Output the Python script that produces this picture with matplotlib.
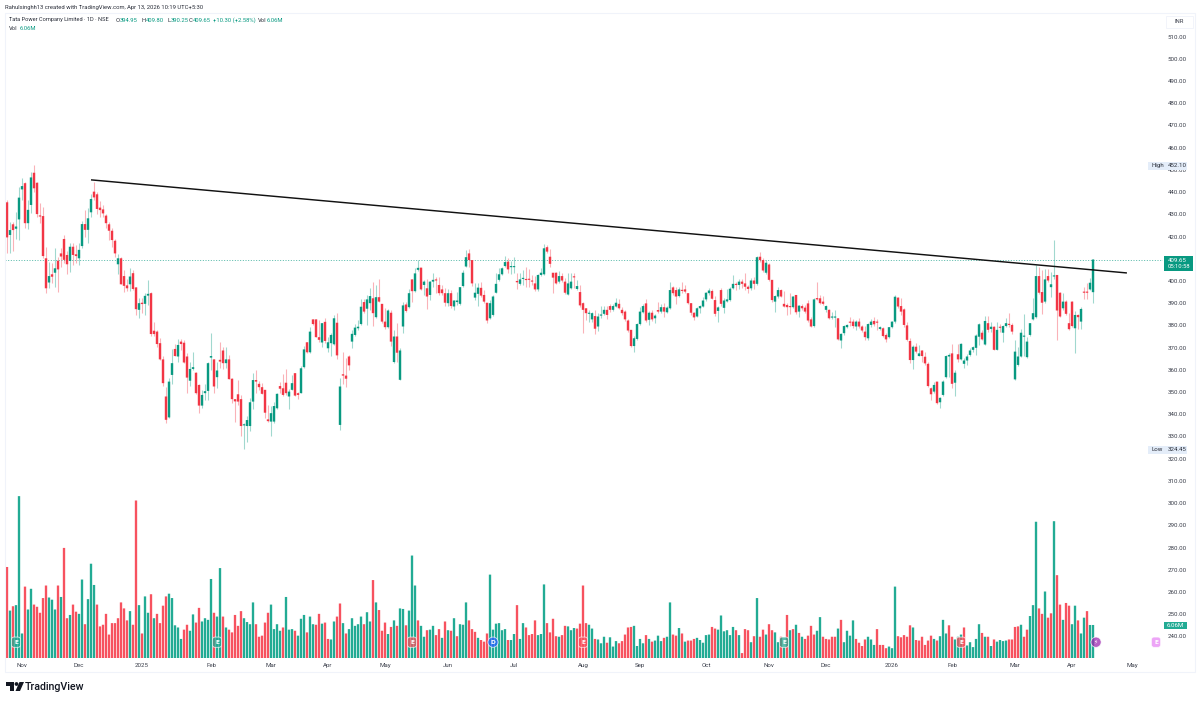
import numpy as np
import matplotlib
matplotlib.use("Agg")
import matplotlib.pyplot as plt
from matplotlib.patches import Rectangle, Polygon, Circle

plt.rcParams['font.family'] = ['Roboto', 'DejaVu Sans']

# daily candles
opens = [435.4,420.7,425.5,423.5,427.7,441.2,444,426,434.2,448.7,
444.2,429.4,429.2,410.2,399.3,403,403.7,409.1,412.4,418.9,
411.7,409,415.4,412,410.2,415.7,425.6,423,430.9,440.2,
439,433,432.2,429.4,425.5,422.6,418.1,407.5,410.2,402.2,
398,398.5,403.5,397.1,387,390.2,389.7,393.4,394.5,377.6,
377.2,372,364.7,348,338.6,357.7,369.4,366,372.7,372.2,
366,355.1,360.4,358.7,353.2,343.9,349.5,350.5,365.5,364.7,
356.7,364.5,368.7,363,364.7,356,346.8,349,346.8,335,
334.7,334.7,345.7,355.4,353.7,352.2,351,337.7,336.7,336.7,
342.7,352.7,351.7,354.2,348,351,358.5,349.5,349.5,361.2,
372.4,367.9,382.7,382.7,374.7,372.3,381.6,369.7,372,371.5,
381.2,335.2,358,357.4,366,372.7,375.7,378.7,380.6,390.5,
387.5,390,392.2,383.7,392.7,389.7,381.7,379.2,385.7,363.5,
375,355.5,379.5,389.4,388.2,400.7,395.4,405,406,398.2,
396.7,393.7,399.7,400.7,398.2,396.2,394.5,390,394.5,388.5,
390.5,389.7,397.7,406.5,412.4,409.4,392.5,394.2,396.9,393.7,
390.2,383.2,384.7,394.7,400.5,403,406.7,408.7,406.2,406.2,
400,398.7,400.9,400.8,400.7,400.2,398.9,396.2,402.7,403,
415.2,410.9,403.7,403.7,399.7,402.2,399.7,393.9,396.7,401.9,
396.4,395,390,387.7,385.2,382.7,384.2,379.5,384.4,385.2,
387,388.7,387,388.5,389.7,387,386.2,382.2,378,370.7,
373.9,380.6,385.9,389.9,382.5,385.7,383.2,386.9,386.2,388.2,
385.9,387.7,397.1,395.9,393.2,395.9,396.2,394.5,390,385.7,
384,387.7,388.5,391.7,394.5,395.5,391.4,386.5,395.9,387.9,
390.8,391.4,396.7,398.7,398.2,399.7,398.9,397.4,396.7,400.2,
398.7,410.9,409.4,403.7,407.4,400.5,390.7,393,395.9,389.7,
389.2,388.7,388.2,393.7,386.2,388.7,388,389.9,382.7,379.7,
392.3,392.2,390.7,387,387,383.5,383.5,383.2,373.2,376.5,
379.2,381.7,381.7,379.5,381.7,379.5,377.2,374.2,380.2,382,
381.7,378.4,378.7,375.7,374.7,379.2,381.7,392.5,388.7,387.2,
380,373,364.4,370.4,366.2,368.7,365.9,362.7,351.7,350.2,
354.7,345.4,348.7,356.7,366,367.4,354.2,367,364.7,362.7,
364.2,366.7,369,369.9,374.9,376.7,371.4,381,378.4,379.4,
369,379.4,376.7,379.7,380.7,380.2,355.7,362.2,366,374.9,
365.7,375.7,382.7,383.7,402.2,395,390.7,402.2,397.2,402,
402.7,394.7,387.7,390.7,381,390.7,378.7,384.7,381.7,395,395,396.2,394.95]

highs = [436.5,426.5,426.7,431,442.4,446.2,444.7,436.4,449.2,452.1,
444.7,434.9,433.4,415.1,408.7,408,414.7,411,414.7,420.7,
413.4,417,417,416,417,427,432,433,439,444.7,
440,436,434,430,426.5,424,419,412,411,405,
401,405.7,405,397.5,392.2,392.2,394.5,400.5,395,381.7,
378,374.2,366,352.4,356.2,369.2,371.6,373.7,374,373.4,
367.4,363.4,368.2,359,353.5,351,353.6,363.7,376.4,365,
363.7,372.7,370.4,370.4,366.7,356.5,347,355.5,348.7,336,
339,347.2,358.4,360,355,354,351,344.2,343.5,345.7,
349.7,354.7,358.2,360.2,351.2,357.7,358.6,350.2,361.5,370.7,
372.5,379.5,382.8,383,382.4,381,383.2,374.7,376.4,384.7,
385.4,356.2,368.2,365.2,366.5,378,380.7,382.4,391.7,391.9,
393.7,396.7,399.7,398.2,400.7,389.7,387.7,387.2,387,378,
381,369.7,390.7,390.4,396.2,400.9,405.7,409.5,406,400.5,
400.7,400.2,403.5,402,402,398.2,396.7,396.2,396,391.5,
395.2,397.5,404.9,413.9,414.2,409.5,399,398.9,399.7,396,
390.3,391.5,393.7,403.5,405.7,406.2,411.2,410.2,409.2,410.6,
403.7,403.5,404.9,406.5,405.2,402.7,402.2,403,405.7,416.7,
416.2,414.2,403.8,404.2,404.7,403.7,401.2,403.4,403.7,403.4,
400.5,398.2,390.7,387.8,386.9,386.2,386.9,385.4,388.7,388.7,
388.7,389.6,389.6,392.2,391.7,388.2,387,382.7,378,375,
381,388.5,389.7,391.7,386.7,387,385.2,390.7,389.7,390,
388.7,399.7,397.7,397.2,397.2,399.7,398.2,394.5,390,386.2,
388.2,389.2,393,395.2,396.7,396.2,393.2,388.7,396.7,392.2,
396.2,397.2,402.7,399.7,400.7,400.7,403.7,398.2,401.2,401.9,
411.2,413.2,410.2,409.4,407.9,400.5,393.7,397.4,396.2,395.7,
390,394.5,393.4,393.7,389.2,389.7,389.2,391.4,383.7,392.2,
399.7,393.7,393.2,389.2,387.3,386.2,386.9,383.2,376.7,380.2,
380.6,383.7,382.7,382.5,383.2,380.2,379.7,381,382.7,383.7,
383,379.7,379.5,376.5,379.5,382,393.7,393,392.2,387.7,
381.7,374.2,371.2,372,371.2,368.7,368.2,363.7,352.4,354.7,
354.7,347.9,355.4,366.7,367.4,371.7,359.9,371.7,372,365.2,
367.2,369.7,370.7,376.2,381.2,378,384.2,384.2,381.7,379.7,
381.7,380.7,380.2,383.2,385.4,381.2,373.4,370.4,378.2,385.2,
374.7,381.2,392.2,407.2,406.2,405,405.2,405.2,404.2,418.5,
402.9,394.9,394.7,391.5,385.5,391.2,386.5,385.2,388.5,397.4,398.9,401.2,409.8]

lows = [412.4,412.7,413.6,419,418.4,436.4,423.7,423.3,430.4,440.2,
428.9,426,410.2,394.4,396.7,399,397.5,395.2,406.5,408,
403,404,407,408,407,414.7,420,417,429,436.4,
430,429,429,424,418.4,415.5,411,403,398.5,395,
395.6,395.5,396,384.7,383.2,385.5,384.7,389.2,375,375,
370.4,364.2,352.8,336.2,338.2,353.7,366,363.3,369,362.9,
349.7,352.7,360,349,340.7,342.7,346.4,346.4,360,349.5,
351.7,360.7,360.2,361,355.8,345,336.7,344,330,324.5,
327.7,332.5,342.2,349.5,351,349,338.2,336.6,330,336.2,
342.2,349.5,348.2,348.7,342.2,350.9,348,346.7,349.4,360.7,
367.4,367.4,380.1,374.7,372.7,370.4,372,368.2,366,371.2,
364.7,333,353.7,352.2,360,370,375,378,380.2,385.5,
380.2,387,379.7,383.2,390.4,381.2,378.2,378.7,370.7,363.2,
363.7,355.2,376.5,386.2,387.7,390.7,394.9,404.7,395.9,393.7,
387.2,391.4,397.4,394.5,393.7,393.7,388.7,388.7,387.7,387,
389.2,389.2,397.4,406.2,406.2,397.7,391.4,388.7,392.9,390.2,
381,382.7,384.2,394.4,400.2,402.7,406.4,403.5,403.2,403.4,
396.2,398.2,398.2,397.2,397.4,398.2,395.7,395.7,402.2,402.7,
412.4,406.2,394.7,398.5,398.9,399.7,394.2,393.6,396.2,396.7,
395.9,388.5,376.4,382.5,381.7,381.7,376.2,377.6,383.2,384.7,
382.7,386.2,386.7,388.2,387.2,384.7,382.2,377.2,370.2,368.2,
373.4,380.2,385.4,381.7,380.2,382.2,381,385.5,385.4,384,
385.4,387.2,393.7,389.7,392.9,394.5,394.7,389.7,384.7,382.5,
383.7,385.7,388.2,391.2,393.7,391.7,384.2,381.7,388.7,385.5,
390.7,391.2,396.2,396,396.2,396.7,395.9,394.5,395.9,396.2,
398.2,408.7,404.2,403.2,400.2,390.7,386.2,392.2,392.7,388.2,
384.7,385.2,387.7,385.2,384,387,385.7,381.7,379.2,379.5,
391.4,389.7,389.2,386.2,382.7,382.7,379.5,373.2,369.7,375.7,
378.7,379.7,378.7,378,378.7,377.2,373.2,373.4,379.4,379.7,
378,377.9,374.7,372.7,374.2,379,381.2,387.7,384.7,379.4,
373.1,363.2,360.2,367.7,366,363.7,362.2,352.4,346.4,349.7,
344.7,342.7,348.2,356.2,356.9,351.7,348.4,363.7,364.4,360.7,
362.2,366.2,368.2,366.7,371.2,373.2,371,377.2,377.2,368.7,
368.7,377.2,372.7,379.2,379.2,376.2,355.4,361.7,365.7,366,
365.2,375.2,382.4,383.2,394.2,385.2,390.2,399.7,393,401,
373.2,384,386.9,384.7,378,379.2,367.7,378.4,378.4,391.7,391.7,395.9,390.25]

closes = [419.6,422.9,422.9,424.5,437.5,442.7,426,432,446.6,441.7,
430.1,429,411.2,396.7,402.2,401.9,405.7,405.2,411,409.5,
407.5,415.4,411.7,411.2,414,425.6,423,428.2,436.9,437.6,
432.4,431.9,430.4,426,422.6,418.4,412.4,410.2,398.5,397.8,
396.7,402,396.4,387.3,390,389.6,393.3,394.2,376.1,376.1,
371.6,364.7,354,337.5,354.7,363,366.2,371.2,371.6,363.3,
356.5,360.4,361.2,349.5,343.9,348.7,350.4,363,366.2,352.5,
359.7,363.7,363,364.7,355.8,346.8,345.8,345.7,334.7,335.2,
337.4,345.4,355.4,354.7,352.2,349.2,340.7,336.9,340.5,343.7,
349.2,351.5,348.7,349.5,350.2,354,348.4,348.7,360.7,369.2,
367.9,377.2,380.6,374.7,373.5,381,373,372.4,375.7,383.2,
366.5,352.5,357.4,356,362,376.2,379,379.4,388.4,386.2,
391.7,393.2,385.5,392.7,390.7,381.7,379.2,386.7,372.7,375,
367.7,368.7,389,386.5,394.5,395.4,403.4,405.9,396.2,399.7,
393,399.7,400.5,400.2,394.5,394.5,390.2,394.5,388.7,391.2,
391.2,397.2,403.7,410.7,409.4,398.9,394.7,397,393.4,390.7,
382.2,390,393,398.7,403,405.7,408.5,405.2,406.4,406.4,
399.4,400.7,401.2,400.4,400.5,399.7,396.2,402.7,403.7,414.7,
413.2,407.7,401.5,398.9,402.2,400.2,394.7,398.9,399.7,401.6,
397.7,389,387,385.5,385.5,385.5,378.5,384,384.6,387,
384.7,387,388.7,390.2,387.7,385.5,382.7,377.7,370.7,374.2,
380.6,386.2,388.7,382.2,385.7,382.7,384.4,386.2,388.2,386.2,
388,395.9,394.5,393,396.2,395.5,395.2,390,385.7,383.6,
387.7,388.7,391.2,394.7,395.7,392,385.2,388.1,389.7,391.2,
391.7,396.5,398.7,398.2,399.7,398.7,397.4,396.4,400.2,398.7,
410.7,409.4,404.7,408.2,400.5,391.4,393.2,395.9,393,388.5,
388.2,388.2,393,385.9,388.9,387.7,386.2,382.2,379.5,391.7,
391.7,390,389.7,388.7,383.2,384,384,373.7,376.2,379.7,
380.2,381.2,379.7,381.7,379.5,377.7,374.7,380.6,381.7,380.5,
381.2,379.2,375.2,373.7,379.2,381.7,392.9,388.5,386.2,380.2,
373.5,364.4,370.4,368.2,367.4,366.2,362.9,352.7,349,353.2,
345,347.4,354.7,366.2,366.7,353.7,358.7,364.7,371.7,364.2,
366,368.7,370.2,375.4,380.5,373.7,382,378,379.4,369,
378,378.9,379.7,381,380.2,377.2,368.2,366,376.7,375.3,
372.7,381,385.5,402.2,394.7,390.2,400.7,400.2,398.5,402.2,
386.7,384,390.7,385.2,378.3,379.7,384.7,383.7,387.4,394.7,394.7,399.2,409.65]

# volume in millions, r/g as coloured on the chart
volumes = [16.7,8.7,9.5,9.7,29.7,4.5,13.1,8.9,12.7,9.8,
9.4,8.3,11,13.3,11.1,10.7,8.9,13.3,11.2,20.2,
7.3,7.9,9.8,8.5,8.1,14.4,6.2,10.8,17.3,13.4,
9.8,5.8,6.1,8.1,4.3,6.4,6.4,7.3,10.2,9.1,
6.9,8.6,6.1,28.9,9.7,4.5,11.3,8.3,11.7,7.3,
8.1,6.4,9.6,11.3,11.8,11,6,5.6,3.5,5.2,
6.1,5,8,6.5,9.2,6.7,7.3,7,14.5,8.3,
7.6,16.5,7.6,5.6,5.2,4.7,7.9,5.9,8.6,7.3,
6.6,6.2,10.2,6.2,3.9,4.1,6.5,8.3,9.8,5.3,
6.2,5,5.6,11.2,5.2,5.3,5,4.1,7.2,7.9,
4.7,7.6,6.2,6.1,8.1,6.3,6.5,3.5,3.4,6.7,
7.6,10,6.4,4.5,5.3,7.3,5.9,6.2,7.6,6.2,
8.4,6.7,14.3,10.2,8.8,5,6.5,4.4,5.7,6.9,5.9,
9.1,9,6,8.7,18.8,13.3,6.9,5.9,3.9,5.1,
5.2,5.9,4.2,5.3,3.7,6.7,5.1,5,7.3,4,
6.2,6.1,10.2,6.9,5.3,4.8,3.7,3.3,3,4.5,
15.3,5.2,6.3,6.4,5.1,5.3,3.3,3.3,4.4,9.7,
3.5,6.4,5.6,4.2,4.4,6.9,4.2,4.4,13.5,6.4,
4.7,7.2,4,3.9,4.2,5.9,5.8,5.1,5.5,5.4,
6.3,13.3,6.4,6.1,5.4,3.5,3.4,2.7,3.9,2.8,
3.8,2.1,3.1,2.7,3.1,4.3,5.6,5.7,5.9,2.2,
3.5,2.7,4.2,3.5,3,3.2,4.1,3.1,3.7,3.9,
10.2,4.3,4.1,5.5,4.5,3,3.2,3.2,3.5,3.7,
3.3,2.8,4.2,4.3,5.7,5.4,5.2,7.8,4.9,5.1,
4.2,5.7,5.1,4.2,0.9,5.3,5.1,2.9,4,11,
3.9,5.2,4.3,6.2,5.1,4.7,2.9,3.9,2,7.9,
5.1,5.3,6.1,
4.6,3.9,3.5,4.1,5.9,4.3,5,7.5,3.9,3.5,
3.4,3.9,3.9,5.4,7,2.9,5,4.1,6.9,3.5,
2.8,2.2,3.4,3.9,3.4,2.4,5.3,2.4,2.4,1.8,
2.1,1.8,13.1,4,3.8,4.2,3.9,6,5.6,3.3,
3.2,3.9,2.4,3.2,4.1,3.5,3.2,4,7,4.5,
6,3.9,3.4,3.9,4.3,5.6,2.3,2.9,2,3.5,
6.2,4.6,3.9,3.9,2.2,3.4,3,3.3,3.1,3.2,
3.4,3.4,5.7,5.8,6.1,3.9,5.2,7.7,9.7,25,
9.1,8.1,12.2,7.4,8.2,25.1,15.2,9.8,7,10.1,
9.6,6.2,9.6,6.9,4.5,7.4,8.6,6.06,6.06]

vol_colors = ("rgrgggrggr" "rrrrgggrgr" "rgrrggrggg" "rrrrrrrrrr" "rgrrgrggrg"
              "rrrrgggggr" "rggrrggggr" "ggrgrrrrrg" "gggrrrrrgg" "ggrgggrggg"
              "rggrrgrrgg" "rrgrgggggr" "ggrgrrrgrgr"
              "ggrgggrggr" "ggrrgrgrgr" "gggrrrgrrr" "ggggggrggr" "ggrrrrgggr"
              "rrrgrrgggr" "rrrggrgggr" "gggrrrrrgg" "ggrgrgggrg" "grrgrgrrrg"
              "ggggrrgggg" "ggrgrrrgrg" "rrgrrggrgr" "grg"
              "rgrrrrggrr" "rrrgrggggr" "rrrgggrrrr" "gggrrrrrgr" "rrrrrgrggg"
              "rrgggrgggg" "grgrgrgggg" "rrrrgrrggg" "rrgrrgrrgr" "rggrggrgg")

month_pos = [5, 24, 45, 68, 88, 107, 126, 147, 169, 192, 211, 233, 254, 273, 295, 315, 336, 355, 375]
month_labels = ["Nov", "Dec", "2025", "Feb", "Mar", "Apr", "May", "Jun", "Jul", "Aug", "Sep", "Oct",
                "Nov", "Dec", "2026", "Feb", "Mar", "Apr", "May"]
price_ticks = [240, 250, 260, 270, 280, 290, 300, 310, 320, 330, 340, 350, 360, 370, 380, 390,
               400, 420, 430, 440, 450, 460, 470, 480, 490, 500, 510]

trend_x = [28, 373.3]
trend_y = [445.5, 403.6]
last_close = 409.65

badge_pos = [3, 70, 135, 162, 192, 259, 318, 363, 383]
badge_text = ["E", "E", "E", "D", "E", "E", "E", "⚡", "E"]
badge_col = ["#22ab94", "#22ab94", "#f7525f", "#2962ff", "#f7525f", "#22ab94", "#f7525f", "#9c27b0", "#e887f5"]
badge_box = ["round", "round", "round", "circle", "round", "round", "round", "circle", "round"]

UP = "#089981"
DOWN = "#f23645"
W, H = 1200, 701

o, h, l, c = map(np.array, (opens, highs, lows, closes))
x = np.arange(len(c))
up = c >= o

fig = plt.figure(figsize=(W / 100, H / 100), dpi=100, facecolor="white")


def px_rect(left, top, right, bottom):
    return [left / W, 1 - bottom / H, (right - left) / W, (bottom - top) / H]


# price pane, left 5 .. right 1163, top 13 .. bottom 658
ax = fig.add_axes(px_rect(5, 13, 1163, 658))
ax.set_xlim(-0.667, 385.33)
ax.set_ylim(230.3, 520.6)
ax.vlines(x[up], l[up], h[up], color=UP, alpha=0.38, lw=0.8, zorder=2)
ax.vlines(x[~up], l[~up], h[~up], color=DOWN, alpha=0.38, lw=0.8, zorder=2)
bars_up = ax.bar(x[up], np.maximum(c[up] - o[up], 0.5), bottom=o[up], width=0.8, color=UP, lw=0, zorder=3)
bars_dn = ax.bar(x[~up], np.maximum(o[~up] - c[~up], 0.5), bottom=c[~up], width=0.8, color=DOWN, lw=0, zorder=3)
for b in list(bars_up) + list(bars_dn):
    b.set_snap(False)
ax.plot(trend_x, trend_y, color="#111111", lw=1.05, zorder=5, solid_capstyle="butt")
ax.axhline(last_close, color=UP, lw=0.6, ls=(0, (1.2, 2)), alpha=0.8, zorder=1)
for s in ax.spines.values():
    s.set_visible(False)
ax.set_xticks([])
ax.yaxis.tick_right()
ax.set_yticks(price_ticks)
ax.set_yticklabels([f"{p:.2f}" for p in price_ticks], fontsize=4.4, color="#3a3e4a")
ax.tick_params(axis="y", length=0, pad=3.2)
ax.patch.set_alpha(0)

# volume shares the pane, 5.45 px per million
vax = fig.add_axes(px_rect(5, 13, 1163, 658))
vax.set_xlim(-0.667, 385.33)
vax.set_ylim(0, 645 / 5.45)
cols = ["#22ab94" if k == "g" else "#f7525f" for k in vol_colors]
vol_bars = vax.bar(x, volumes, width=0.78, color=cols, lw=0, zorder=2)
for b in vol_bars:
    b.set_snap(False)
for s in vax.spines.values():
    s.set_visible(False)
vax.set_yticks([])
vax.set_xticks(month_pos)
vax.set_xticklabels(month_labels, fontsize=4.4, color="#3a3e4a")
vax.tick_params(axis="x", length=0, pad=3.5)
vax.patch.set_alpha(0)

for p, t, col, box in zip(badge_pos, badge_text, badge_col, badge_box):
    vax.text(p, 2.9, t, fontsize=4.2, color="white", ha="center", va="center", zorder=6,
             family=["DejaVu Sans"], fontweight="bold",
             bbox=dict(boxstyle=box + ",pad=0.45", fc=col, ec="white", lw=0.6, alpha=0.75))

# overlay in pixels for the frame, header, scale labels and logo
top = fig.add_axes([0, 0, 1, 1], zorder=10)
top.set_xlim(0, W)
top.set_ylim(H, 0)
top.axis("off")
top.patch.set_alpha(0)
top.add_patch(Rectangle((5, 13), 1190, 659, fc="none", ec="#f0f3fa", lw=0.8))

top.text(5, 7.5, "Rahulsinghh13 created with TradingView.com, Apr 13, 2026 10:19 UTC+5:30",
         fontsize=4.2, color="#2a2e39", va="center")
top.text(9, 20, "Tata Power Company Limited · 1D · NSE", fontsize=4.1, color="#2a2e39", va="center")
quote_bits = [(115.5, "O", "394.95", 4.4), (141, "H", "409.80", 4.5), (168, "L", "390.25", 3.2),
              (189, "C", "409.65", 4.2), (213, "", "+10.30 (+2.58%)", 0), (258, "Vol", "6.06M", 8.8)]
for px, tag, s, gap in quote_bits:
    top.text(px, 20, tag, fontsize=4.2, color="#2a2e39", va="center")
    top.text(px + gap, 20, s, fontsize=4.2, color=UP, va="center")
top.text(9, 29, "Vol", fontsize=4.2, color="#2a2e39", va="center")
top.text(20, 29, "6.06M", fontsize=4.2, color=UP, va="center")

top.add_patch(Rectangle((1166, 15.5), 27, 12, fc="white", ec="#f0f3fa", lw=0.6))
top.text(1179.5, 21.5, "INR", fontsize=4.2, color="#3a3e4a", ha="center", va="center")

# high, low, last price and volume tags
top.add_patch(Rectangle((1148, 162), 39, 7.5, fc="#e4edf9", lw=0))
top.text(1151, 165.8, "High", fontsize=4.4, color="#2a2e39", va="center")
top.text(1168, 165.8, "452.10", fontsize=4.4, color="#2a2e39", va="center")
top.add_patch(Rectangle((1148, 446), 39, 7.5, fc="#e4edf9", lw=0))
top.text(1151, 449.8, "Low", fontsize=4.4, color="#2a2e39", va="center")
top.text(1168, 449.8, "324.45", fontsize=4.4, color="#2a2e39", va="center")
top.add_patch(Rectangle((1164, 256), 29, 15, fc=UP, lw=0))
top.text(1168, 260, "409.65", fontsize=4.4, color="white", va="center")
top.text(1168, 267, "05:10:58", fontsize=4.2, color="white", va="center")
top.add_patch(Rectangle((1164, 621.5), 23, 7.5, fc="#22ab94", lw=0))
top.text(1167, 625.3, "6.06M", fontsize=4.4, color="white", va="center")

# TradingView logo
top.add_patch(Polygon([(6, 682), (14, 682), (14, 691), (10, 691), (10, 686), (6, 686)], fc="#131722", lw=0))
top.add_patch(Circle((16.5, 684), 1.9, fc="#131722", lw=0))
top.add_patch(Polygon([(19.5, 682), (24, 682), (20, 691), (15.5, 691)], fc="#131722", lw=0))
top.text(25, 686.5, "TradingView", fontsize=7.7, color="#131722", va="center", fontweight="medium")

fig.savefig("out.png", dpi=100)
